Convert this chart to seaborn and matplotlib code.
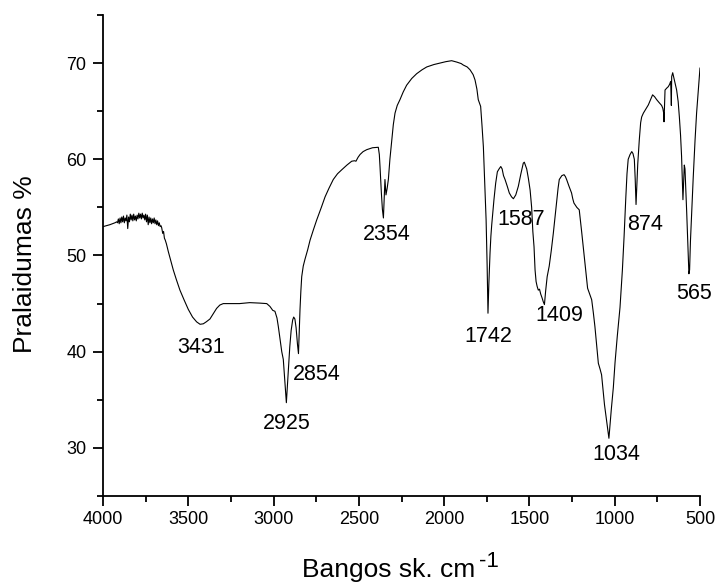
import numpy as np
import pandas as pd
import matplotlib
matplotlib.use("Agg")
import matplotlib.pyplot as plt
from matplotlib.ticker import MultipleLocator
import seaborn as sns

# FTIR spectrum (wavenumber cm-1, transmittance %)
wavenumber = [
    4000, 3960, 3930, 3920,
    3915, 3910, 3905, 3900, 3895, 3890, 3885, 3880, 3875, 3870, 3865, 3860,
    3855, 3850, 3845, 3840, 3835, 3830, 3825, 3820, 3815, 3810, 3805, 3800,
    3795, 3790, 3785, 3780, 3775, 3770, 3765, 3760, 3755, 3750, 3745, 3740,
    3735, 3730, 3725, 3720, 3715, 3710, 3705, 3700, 3695, 3690, 3685, 3680,
    3675, 3670, 3665, 3660,
    3656, 3650, 3645, 3640, 3635, 3628, 3617, 3600, 3588, 3570,
    3549, 3525, 3500, 3475, 3451, 3431, 3412, 3395, 3373, 3355, 3334, 3315,
    3295, 3250, 3200, 3140, 3080, 3040, 3021, 3005, 2992, 2980, 2972, 2960,
    2952, 2943, 2935, 2925, 2914, 2905, 2897, 2888, 2882, 2875, 2868, 2860,
    2854, 2849, 2845, 2840, 2835, 2826, 2816, 2800, 2786, 2766, 2747, 2720,
    2698, 2675, 2650, 2625, 2601, 2570, 2542, 2525, 2517, 2505, 2493, 2475,
    2454, 2420, 2386, 2380, 2376, 2368, 2362, 2356, 2350, 2347, 2341, 2334,
    2327, 2318, 2307, 2298, 2288, 2275, 2259, 2240, 2220, 2190, 2161, 2130,
    2102, 2060, 2024, 1990, 1956, 1925, 1900, 1888, 1865, 1848, 1830, 1819,
    1808, 1800, 1792, 1786, 1778, 1770, 1762, 1754, 1748, 1743, 1738, 1731,
    1726, 1721, 1714, 1708, 1698, 1688, 1678, 1668, 1660, 1652, 1643, 1630,
    1618, 1605, 1594, 1580, 1565, 1550, 1536, 1530, 1522, 1516, 1506, 1496,
    1487, 1480, 1473, 1467, 1461, 1455, 1448, 1441, 1434, 1426, 1419, 1412,
    1405, 1396, 1384, 1372, 1360, 1350, 1340, 1332, 1325, 1310, 1297, 1289,
    1282, 1268, 1253, 1246, 1239, 1222, 1208, 1200, 1194, 1184, 1174, 1165,
    1159, 1147, 1135, 1125, 1116, 1106, 1096, 1086, 1077, 1060, 1045, 1034,
    1020, 1008, 998, 985, 969, 955, 945, 935, 928, 921, 910, 900,
    893, 885, 880, 875, 870, 865, 856, 848, 842, 832, 822, 812,
    803, 790, 778, 766, 754, 740, 725, 718, 713, 711, 708, 705,
    695, 686, 678, 672, 669, 668, 667, 666, 660, 650, 637, 628,
    621, 614, 608, 603, 600, 596, 592, 588, 583, 578, 572, 568,
    565, 561, 556, 549, 540, 529, 520, 510, 500,
]
transmittance = [
    53.0, 53.2, 53.4, 53.5,
    53.4, 53.8, 53.3, 53.9, 53.4, 54.0, 53.5, 54.1, 53.4, 53.9, 53.6, 54.2,
    52.8, 54.0, 53.5, 54.3, 53.7, 54.2, 53.6, 54.3, 53.7, 54.1, 53.6, 54.2,
    53.8, 54.4, 53.9, 54.3, 53.8, 54.4, 53.9, 54.2, 53.7, 54.3, 53.5, 54.2,
    53.2, 54.0, 53.4, 53.9, 53.3, 53.8, 53.4, 53.9, 53.3, 53.7, 53.2, 53.6,
    53.1, 53.4, 53.0, 53.1,
    52.9, 52.3, 52.5, 51.8, 51.6, 51.2, 50.4, 49.3, 48.5, 47.5,
    46.4, 45.4, 44.4, 43.6, 43.1, 42.85, 42.9, 43.1, 43.4, 43.9, 44.5, 44.85,
    45.0, 45.0, 45.0, 45.1, 45.05, 45.0, 44.7, 44.3, 44.2, 43.5, 42.6, 41.0,
    40.0, 39.2, 37.2, 34.7, 37.8, 40.5, 42.2, 43.3, 43.6, 43.4, 42.5, 40.8,
    39.8, 42.5, 44.4, 46.3, 47.8, 48.9, 49.6, 50.6, 51.6, 52.7, 53.7, 55.0,
    56.1, 57.0, 57.9, 58.5, 58.9, 59.4, 59.8, 59.85, 59.8, 60.2, 60.5, 60.8,
    61.0, 61.2, 61.25, 60.5, 59.25, 56.5, 54.8, 53.9, 56.5, 57.9, 56.3, 57.0,
    57.9, 60.0, 62.0, 63.6, 64.8, 65.6, 66.2, 67.0, 67.7, 68.4, 68.9, 69.3,
    69.6, 69.85, 70.0, 70.15, 70.25, 70.1, 69.95, 69.8, 69.6, 69.3, 68.8, 68.25,
    67.3, 66.2, 65.8, 65.5, 63.5, 61.3, 57.5, 53.7, 49.0, 44.0, 47.0, 50.25,
    52.0, 53.2, 54.6, 55.8, 57.5, 58.7, 59.0, 59.25, 59.0, 58.3, 57.9, 57.2,
    56.5, 56.1, 55.9, 56.3, 57.2, 58.5, 59.6, 59.7, 59.3, 59.0, 58.0, 56.8,
    55.0, 52.5, 50.9, 48.5, 47.3, 46.8, 46.4, 46.5, 46.0, 45.6, 45.2, 44.9,
    46.3, 47.8, 48.9, 50.5, 52.3, 54.0, 55.8, 57.0, 57.9, 58.3, 58.4, 58.2,
    57.9, 57.2, 56.5, 55.9, 55.45, 55.0, 54.75, 53.5, 52.5, 50.8, 49.2, 47.5,
    46.6, 46.0, 45.4, 44.0, 42.6, 40.7, 38.8, 38.2, 37.6, 34.5, 32.5, 31.0,
    34.0, 36.3, 38.9, 41.6, 44.6, 48.5, 52.0, 56.0, 58.5, 60.0, 60.5, 60.8,
    60.6, 60.0, 58.0, 55.3, 57.5, 59.5, 62.0, 63.8, 64.4, 64.8, 65.1, 65.4,
    65.65, 66.2, 66.7, 66.5, 66.2, 65.9, 65.6, 65.3, 64.8, 63.9, 65.5, 67.2,
    67.4, 67.55, 67.8, 68.1, 66.5, 65.6, 67.5, 68.6, 69.0, 68.2, 67.2, 66.0,
    64.4, 62.5, 60.3, 57.5, 55.8, 57.5, 59.4, 59.0, 56.8, 54.5, 51.5, 49.2,
    48.1, 48.5, 51.5, 54.4, 58.0, 62.0, 64.8, 67.2, 69.5,
]

# peak labels and where the text sits (baseline)
peak_labels = ["3431", "2925", "2854", "2354", "1742", "1587", "1409", "1034", "874", "565"]
label_x = [3428, 2925, 2747, 2337, 1741, 1548, 1325, 988, 820, 536]
label_y = [39.87, 31.98, 37.10, 51.56, 40.97, 53.19, 43.15, 28.79, 52.60, 45.51]

sns.set_theme(style="ticks")
plt.rcParams["font.family"] = ["Liberation Sans", "DejaVu Sans"]

df = pd.DataFrame({"wn": wavenumber, "T": transmittance})

fig = plt.figure(figsize=(7.19, 5.84), dpi=100)
ax = fig.add_axes([103 / 719, 88 / 584, 597 / 719, 481 / 584])

sns.lineplot(data=df, x="wn", y="T", color="black", linewidth=0.8, sort=False, ax=ax)

for txt, lx, ly in zip(peak_labels, label_x, label_y):
    ax.text(lx, ly, txt, ha="center", va="baseline", fontsize=15.5, color="black")

ax.set_xlim(4000, 500)
ax.set_ylim(25, 75)
ax.xaxis.set_major_locator(MultipleLocator(500))
ax.xaxis.set_minor_locator(MultipleLocator(250))
ax.yaxis.set_major_locator(MultipleLocator(10))
ax.yaxis.set_minor_locator(MultipleLocator(5))

ax.tick_params(which="major", length=7, width=1.3, colors="black", labelsize=13)
ax.tick_params(which="minor", length=4, width=1.3, colors="black")
ax.tick_params(axis="x", which="major", pad=4)
ax.tick_params(axis="y", which="major", pad=5)

sns.despine(ax=ax)
for s in ["left", "bottom"]:
    ax.spines[s].set_linewidth(1.3)
    ax.spines[s].set_color("black")

# axis titles; the "-1" superscript is a separate text, as in the original
ax.set_xlabel("Bangos sk. cm", fontsize=19, color="black")
ax.xaxis.set_label_coords((389 - 103) / 597, -(558 - 496) / 481)
ax.text((479 - 103) / 597, -(567 - 496) / 481, "-1", transform=ax.transAxes,
        ha="left", va="baseline", fontsize=16, color="black")
ax.set_ylabel("Pralaidumas %", fontsize=19, color="black")
ax.yaxis.set_label_coords(-(103 - 37.5) / 597, (496 - 264) / 481)

fig.savefig("out.png", dpi=100)
